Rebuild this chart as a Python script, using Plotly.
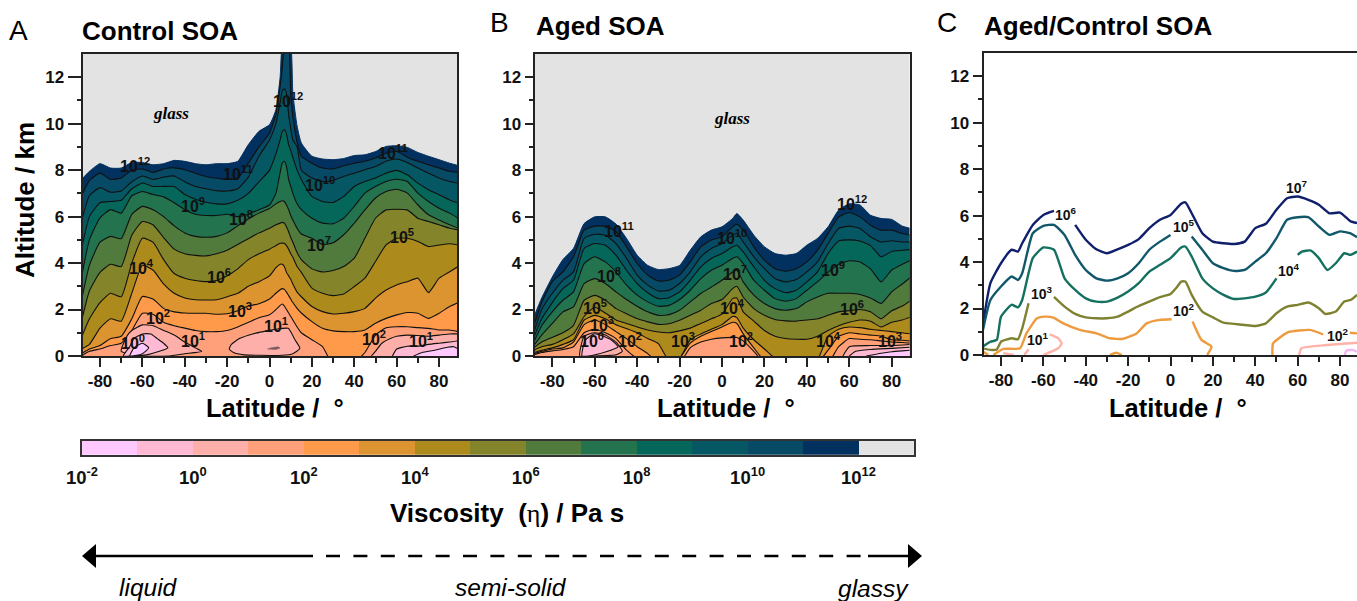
import plotly.graph_objects as go

W, H = 1357, 601
FONT = "Liberation Sans"

# ---------- colour bands ----------
band_edges = [-2, -1, 0, 1, 2, 3, 4, 5, 6, 7, 8, 9, 10, 11, 12]
band_colors = ["#FFC8FF", "#FFB9D2", "#FFAFAA", "#FFA07A", "#FF9A4B", "#DC9430", "#AD8A1C", "#84842A",
               "#507B3C", "#24734F", "#05665A", "#055763", "#064A66", "#02305F", "#E3E3E3"]
cbar_tick_vals = [-2, 0, 2, 4, 6, 8, 10, 12]
cbar_tick_text = ["10<sup>-2</sup>", "10<sup>0</sup>", "10<sup>2</sup>", "10<sup>4</sup>", "10<sup>6</sup>",
                  "10<sup>8</sup>", "10<sup>10</sup>", "10<sup>12</sup>"]

# ---------- panel A: altitude (km) of each viscosity contour, by latitude ----------
lat_a = [-88.7,-85,-80,-75,-70,-65,-60,-55,-50,-45,-40,-35,-30,-25,-20,-15,-10,-5,0,3,5,6,7,8,9,10,11,13,15,20,25,30,35,40,45,50,55,60,65,70,75,80,85,89]
a12 = [7.6,7.95,8.28,8.09,8.09,8.33,8.33,8.23,8.28,8.42,8.38,8.28,8.23,8.28,8.28,8.38,9.1,9.67,9.96,10.6,12.0,13.3,13.3,13.3,13.3,13.3,11.3,9.9,9.17,8.6,8.48,8.45,8.5,8.63,8.66,8.8,9.02,9.05,8.98,8.76,8.6,8.45,8.3,8.2]
a11 = [6.9,7.55,7.87,7.6,7.66,8.0,8.05,7.9,8.05,8.1,8.02,7.87,7.73,7.65,7.6,7.65,8.3,9.0,9.6,10.4,11.6,12.4,13.3,13.3,13.3,11.2,10.3,9.2,8.6,8.3,8.09,8.05,8.19,8.3,8.38,8.52,8.73,8.8,8.56,8.38,8.23,8.09,7.95,7.9]
a10 = [5.8,6.9,7.25,7.05,7.1,7.5,7.75,7.6,7.7,7.75,7.5,7.3,7.2,7.12,7.1,7.2,7.7,8.6,9.3,10.0,10.9,11.4,11.5,11.3,10.4,9.8,9.3,9.0,8.0,7.66,7.51,7.56,7.73,7.87,8.02,8.16,8.38,8.48,8.33,8.09,7.87,7.66,7.51,7.44]
a9 = [4.6,6.0,6.6,6.65,6.7,7.2,7.45,7.3,7.3,7.3,6.95,6.75,6.62,6.55,6.55,6.7,7.0,7.5,8.0,8.7,9.3,9.65,9.75,9.55,9.1,8.85,8.55,8.0,7.6,6.87,6.65,6.61,6.87,7.3,7.51,7.66,7.87,7.99,7.8,7.44,7.16,6.94,6.72,6.58]
a8 = [3.4,5.0,5.95,6.3,6.15,6.9,7.08,6.95,6.85,6.6,6.3,6.1,6.05,6.05,6.1,6.0,6.1,6.3,6.5,7.0,7.9,8.3,8.38,8.15,7.6,7.3,7.0,6.55,6.3,5.93,5.72,5.69,5.93,6.44,7.01,7.3,7.51,7.61,7.51,7.01,6.65,6.36,6.15,5.93]
a7 = [2.4,3.9,4.9,5.15,5.05,6.1,6.44,6.3,6.0,5.6,5.3,5.15,5.11,5.15,5.3,5.6,5.9,6.15,6.35,6.55,6.65,6.68,6.65,6.5,6.3,6.05,5.85,5.5,5.25,5.07,4.8,4.88,5.22,5.72,6.29,6.8,7.08,7.18,7.01,6.5,6.08,5.85,5.65,5.5]
a6 = [1.5,2.8,3.6,3.95,3.85,5.2,5.79,5.65,5.1,4.6,4.4,4.33,4.31,4.4,4.55,4.8,5.05,5.3,5.5,5.65,5.72,5.75,5.72,5.55,5.35,5.1,4.9,4.45,4.15,3.75,3.62,3.68,3.85,4.21,5.07,5.93,6.29,6.32,6.29,5.93,5.79,5.65,5.5,5.43]
a5 = [0.8,1.6,2.3,2.7,2.55,4.0,5.07,4.9,4.15,3.55,3.35,3.25,3.2,3.25,3.45,3.75,4.15,4.4,4.6,4.75,4.85,4.86,4.85,4.75,4.6,4.4,4.25,3.85,3.6,2.92,2.7,2.6,2.67,2.99,3.35,4.07,4.78,5.07,5.07,4.93,4.71,4.78,4.83,4.78]
a4 = [0.3,0.5,1.2,1.6,1.5,2.7,3.9,3.7,3.1,2.7,2.5,2.42,2.41,2.42,2.55,2.7,3.0,3.2,3.45,3.8,3.95,3.95,3.85,3.6,3.45,3.3,3.1,2.75,2.55,2.13,1.91,1.81,1.84,1.91,2.05,2.49,2.84,3.06,3.2,3.35,2.73,3.35,3.63,3.85]
a3 = [0.1,0.3,0.45,0.75,0.85,1.6,2.56,2.45,2.05,1.9,1.85,1.84,1.84,1.8,1.82,1.95,2.15,2.25,2.45,2.7,2.85,2.9,2.87,2.75,2.6,2.45,2.3,2.05,1.85,1.48,1.19,1.08,1.05,1.05,1.12,1.41,1.62,1.77,1.87,1.84,1.62,1.84,2.13,2.3]
a2 = [0.0,0.2,0.3,0.45,0.55,1.1,1.84,1.8,1.45,1.3,1.2,1.1,1.05,1.05,1.1,1.25,1.45,1.65,1.78,2.0,2.18,2.24,2.15,2.0,1.85,1.7,1.55,1.25,1.0,0.7,0.4,-0.4,-0.5,-0.3,0.15,0.9,1.22,1.26,1.26,1.22,1.19,1.12,1.12,1.05]
# closed low-altitude contours
a_blob_r1_lat = [48,50,53,57,60,65,70,75,80,85,89]
a_blob_r1_alt = [0,0.2,0.55,0.75,0.85,0.9,0.88,0.85,0.9,0.95,0.95]
a_blob_r0_lat = [58,60,65,70,75,80,85,89]
a_blob_r0_alt = [0,0.3,0.42,0.42,0.5,0.55,0.6,0.65]
a_blob_rm_lat = [68,72,78,84,87,89]
a_blob_rm_alt = [0,0.15,0.25,0.38,0.4,0.3]
a_blob_l1_lat = [-70,-67,-65,-60,-55,-50,-45,-40,-35,-32,-40,-48,-60,-70]
a_blob_l1_alt = [0.2,0.9,1.1,1.34,1.3,1.1,0.9,0.6,0.35,0.2,0.1,0,0,0.2]
a_blob_l0_lat = [-69,-66,-64,-60,-56,-53,-50,-48,-52,-58,-65,-69]
a_blob_l0_alt = [0,0.4,0.75,0.95,0.95,0.75,0.55,0.35,0.2,0.05,0,0]
a_blob_lm_lat = [-66,-64,-60,-57,-60,-65,-66]
a_blob_lm_alt = [0,0.35,0.55,0.35,0.1,0,0]
a_blob_c1_lat = [-19,-18,-14,-8,-3,3,8.8,12,14.3,11,6,-5,-12,-17,-19]
a_blob_c1_alt = [0.3,0.5,0.76,0.95,1.05,1.15,1.19,0.7,0.33,0.1,0.03,0.03,0.05,0.15,0.3]
a_spot_lat = [-1,1,4,5,3,0,-1]
a_spot_alt = [0.3,0.36,0.4,0.34,0.28,0.28,0.3]
a_lab_lat = [-63.5,8.7,-15,58.3,23.8,-36,-13.5,23.4,-24,62.5,-60.6,-13.9,-52.6,49.3,-36,3,71.5,-64.4]
a_lab_alt = [8.23,11,7.89,8.8,7.41,6.5,5.95,4.83,3.45,5.17,3.84,1.98,1.68,0.78,0.69,1.34,0.69,0.6]
a_lab_exp = [12,12,11,11,10,9,8,7,6,5,4,3,2,2,1,1,1,0]

# ---------- panel B ----------
lat_b = [-88.7,-85,-80,-75,-70,-65,-60,-55,-50,-45,-40,-35,-30,-25,-20,-15,-10,-5,0,5,7,10,15,20,25,30,35,40,45,50,55,60,65,70,75,80,85,89]
b12 = [1.68,2.5,3.4,4.15,4.63,5.7,5.99,5.99,5.68,5.06,4.34,3.9,3.72,3.76,3.9,4.55,5.13,5.42,5.56,5.92,6.13,5.85,5.2,4.7,4.41,4.34,4.41,4.77,5.06,5.56,6.28,6.55,6.5,6.06,5.92,5.88,5.59,5.49]
b11 = [1.3,2.3,3.2,3.62,4.27,5.42,5.59,5.59,5.35,4.7,3.98,3.48,3.23,3.26,3.48,4.05,4.7,4.99,5.13,5.56,5.67,5.42,4.7,4.12,3.76,3.65,3.76,4.05,4.55,5.27,5.99,6.18,5.99,5.63,5.42,5.42,5.27,5.2]
b10 = [1.0,2.0,2.7,3.26,3.62,5.06,5.24,5.2,4.84,4.2,3.48,3.05,2.8,2.83,3.12,3.62,4.27,4.63,4.84,5.2,5.27,4.91,4.27,3.76,3.33,3.19,3.29,3.62,4.05,4.84,5.49,5.59,5.49,5.13,4.91,4.96,4.91,4.91]
b9 = [0.8,1.6,2.3,2.9,3.26,4.63,4.84,4.77,4.34,3.69,3.12,2.72,2.47,2.51,2.76,3.26,3.84,4.2,4.41,4.7,4.77,4.48,3.84,3.26,2.9,2.72,2.83,3.19,3.62,4.41,4.95,5.0,4.95,4.75,4.27,4.5,4.55,4.58]
b8 = [0.6,1.3,1.9,2.4,2.76,3.98,4.27,4.05,3.62,3.05,2.62,2.33,2.14,2.18,2.43,2.83,3.33,3.69,3.91,4.2,4.27,3.98,3.26,2.83,2.47,2.36,2.47,2.83,3.19,3.6,3.95,4.1,4.05,3.75,3.19,3.7,3.95,4.12]
b7 = [0.45,0.9,1.4,1.9,2.11,3.12,3.33,3.12,2.76,2.43,2.14,1.9,1.75,1.78,1.97,2.33,2.69,2.97,3.26,3.62,3.69,3.19,2.62,2.26,2.04,1.97,2.04,2.33,2.54,2.7,2.7,2.7,2.65,2.5,2.26,2.76,3.1,3.4]
b6 = [0.35,0.6,0.8,1.0,1.32,2.4,2.61,2.4,2.04,1.82,1.61,1.47,1.36,1.39,1.54,1.75,1.97,2.26,2.43,2.9,3.0,2.54,2.04,1.75,1.57,1.51,1.5,1.55,1.6,1.75,1.9,1.95,2.0,1.9,1.6,1.95,2.15,2.4]
b5 = [0.25,0.4,0.5,0.7,0.95,1.7,2.1,1.85,1.55,1.4,1.25,1.12,1.03,1.0,1.08,1.2,1.4,1.6,1.8,2.47,2.5,1.9,1.5,1.1,0.85,0.75,0.72,0.72,0.85,1.1,1.3,1.45,1.55,1.5,1.25,1.45,1.55,1.68]
b4 = [0.15,0.25,0.35,0.5,0.7,1.55,1.75,1.6,1.35,1.18,1.0,0.75,0.53,-0.2,-0.1,0.7,0.95,1.15,1.35,1.7,1.65,1.2,0.7,0.3,-0.1,-0.3,-0.3,-0.3,-0.15,0.85,1.15,1.25,1.22,1.15,1.1,1.05,1.0,0.95]
b3 = [0.1,0.2,0.3,0.35,0.6,1.35,1.55,1.35,1.05,0.75,0.4,0.1,-0.3,-0.3,-0.1,0.55,0.85,1.05,1.25,1.45,1.4,0.95,0.35,-0.2,-0.3,-0.3,-0.3,-0.3,-0.3,0.25,0.85,1.0,0.95,0.9,0.85,0.7,0.68,0.65]
b2 = [0.05,0.15,0.22,0.28,0.4,1.0,1.15,1.0,0.75,0.25,-0.1,-0.3,-0.3,-0.3,-0.3,0.35,0.6,0.72,0.78,0.8,0.8,0.65,0.2,-0.3,-0.3,-0.3,-0.3,-0.3,-0.3,-0.3,0.4,0.75,0.72,0.7,0.65,0.6,0.58,0.55]
b_blob_l1_lat = [-67,-65,-60,-55,-50,-47,-50,-60,-67]
b_blob_l1_alt = [0,0.85,1.0,0.9,0.6,0.2,0.05,0,0]
b_blob_l0_lat = [-66,-64.5,-60,-52,-49,-55,-63,-66]
b_blob_l0_alt = [0,0.68,0.96,0.68,0.39,0.17,0,0]
b_blob_r1_lat = [57,60,70,80,89]
b_blob_r1_alt = [0,0.4,0.45,0.45,0.5]
b_blob_r0_lat = [60,63,70,80,89]
b_blob_r0_alt = [0,0.2,0.28,0.33,0.38]
b_blob_rm_lat = [68,75,80,85,89]
b_blob_rm_alt = [0,0.12,0.18,0.22,0.25]
b_lab_lat = [61.4,-48.5,4.8,52.5,-53.2,6.2,61.4,-60,4.8,50,-56.5,-18.3,79.4,-43.3,9,-61.3]
b_lab_alt = [6.58,5.42,5.12,3.74,3.48,3.56,2.06,2.1,2.1,0.68,1.37,0.68,0.68,0.68,0.68,0.68]
b_lab_exp = [12,11,10,9,8,7,6,5,4,4,3,3,3,2,2,0]

# ---------- panel C ----------
c7_lat = [-88.7,-85,-80,-75,-72,-70,-65,-60,-55,None,-45,-40,-35,-30,-25,-20,-15,-10,-5,0,5,7,10,15,20,25,30,35,40,45,50,55,60,65,70,75,80,85,88]
c7_alt = [1.2,3.09,3.95,4.53,4.45,4.81,5.6,6.03,6.2,None,5.6,4.96,4.55,4.38,4.55,4.74,4.99,5.46,5.82,6.03,6.51,6.57,6.1,5.24,4.88,4.81,4.78,4.88,5.46,5.65,6.25,6.75,6.82,6.68,6.47,6.1,6.13,5.75,5.68]
c6_lat = [-88.7,-85,-80,-75,-72,-70,-65,-60,-55,-50,-45,-40,-35,-30,-25,-20,-15,-10,-5,0,None,10,15,20,25,30,35,40,45,50,55,60,65,70,75,80,85,88]
c6_alt = [1.0,2.37,2.95,3.38,3.23,3.52,5.24,5.56,5.6,5.17,4.31,3.66,3.3,3.2,3.3,3.52,3.95,4.53,4.88,5.17,None,5.1,4.53,3.95,3.74,3.62,3.66,4.02,4.38,5.03,5.82,5.93,5.93,5.53,5.17,5.32,5.24,5.07]
c5_lat = [-88.7,-85,-82,-80,-75,-72,-70,-65,-60,-55,-50,-45,-40,-35,-30,-25,-20,-15,-10,-5,0,5,7,10,15,20,25,30,35,40,45,50,None,60,62,66,70,74,78,82,85,88]
c5_alt = [0.36,0.57,0.65,1.65,2.16,2.05,2.37,4.17,4.63,4.53,3.3,2.8,2.44,2.3,2.3,2.47,2.73,3.09,3.59,3.88,4.17,4.63,4.67,4.24,3.3,2.87,2.59,2.41,2.44,2.51,2.69,3.3,None,4.31,4.45,4.5,4.17,3.66,3.95,4.38,4.31,4.45]
c4_lat = [-88.7,-85,-82,-80,-75,-72,-70,-67,None,-55,-50,-45,-40,-35,-30,-25,-20,-15,-10,-5,0,3,5,7,10,15,20,25,30,35,40,45,50,55,60,65,70,73,78,82,85,88]
c4_alt = [0.29,0.22,0.24,0.57,0.72,0.68,1.15,2.23,None,2.5,2.08,1.77,1.62,1.58,1.58,1.65,1.87,2.11,2.3,2.49,2.63,2.92,3.16,3.16,2.59,1.87,1.62,1.39,1.34,1.29,1.25,1.36,1.8,2.08,2.16,2.26,2.01,1.77,1.87,2.3,2.37,2.59]
c3_lat = [-88.4,-86,None,-83.6,-78.9,-71,-68,-63,-59.3,-55.3,-50.6,-42.8,-34.9,-28.6,-23,-16,-11.3,-5,0.5,None,10.4,14.6,19.3,17.3,None,-28.6,-25.5,-23,None,48.1,48.4,55.5,65.7,72,None,84.6,88]
c3_alt = [0.14,0,None,0,0.26,0.29,0.93,1.58,1.65,1.61,1.36,1.08,0.93,0.72,0.69,0.93,1.36,1.51,1.54,None,1.44,0.65,0.36,0,None,0,0.1,0,None,0,0.5,0.98,1.08,0.89,None,0.96,0.93]
c2_lat = [-79,-74,None,-69,-67,None,-60,-53,-51.4,-53,-57,None,60.7,61.8,73.6,88]
c2_alt = [0.08,0,None,0,0.25,None,0,0.29,0.5,0.72,0.89,None,0,0.29,0.43,0.53]
c1_lat = [82.2,83,86,88]
c1_alt = [0,0.19,0.22,0.14]
c_lab_lat = [59.7,-49.3,6.4,55.9,-60.6,6.4,79,-62.5]
c_lab_alt = [7.24,6.08,5.56,3.66,2.67,1.94,0.86,0.69]
c_lab_exp = [7,6,5,4,3,2,2,1]
c_colors = {"c7": "#101F6B", "c6": "#11586B", "c5": "#14705F", "c4": "#7E8230", "c3": "#EE9A3E", "c2": "#FFB2A8", "c1": "#F3B8F3"}

x_tick_vals = [-80, -60, -40, -20, 0, 20, 40, 60, 80]
x_tick_text = ["-80", "-60", "-40", "-20", "0", "20", "40", "60", "80"]
x_minor_vals = [-70, -50, -30, -10, 10, 30, 50, 70]
y_tick_vals = [0, 2, 4, 6, 8, 10, 12]
y_minor_vals = [1, 3, 5, 7, 9, 11]


def px_x(v):
    return v / W


def px_y(v):
    return 1 - v / H


fig = go.Figure()
C = dict(zip(band_edges, band_colors))
LINE = dict(color="#111111", width=1.1, shape="spline", smoothing=0.5)


def contour_level(lat, alt, fill, ax, line=True):
    ln = LINE if line else dict(color=fill, width=1.0, shape="spline", smoothing=0.5)
    fig.add_trace(go.Scatter(x=lat, y=alt, xaxis=ax[0], yaxis=ax[1], mode="lines", fill="tozeroy", fillcolor=fill,
                             line=ln, showlegend=False, hoverinfo="skip"))


def closed_blob(lat, alt, fill, ax, line=None):
    fig.add_trace(go.Scatter(x=lat, y=alt, xaxis=ax[0], yaxis=ax[1], mode="lines", fill="toself", fillcolor=fill,
                             line=line or LINE, showlegend=False, hoverinfo="skip"))


def edge_blob(lat, alt, fill, ax):
    fig.add_trace(go.Scatter(x=lat, y=alt, xaxis=ax[0], yaxis=ax[1], mode="lines", fill="tozeroy", fillcolor=fill,
                             line=LINE, showlegend=False, hoverinfo="skip"))


AX_A, AX_B, AX_C = ("x", "y"), ("x2", "y2"), ("x3", "y3")

for i, lev in enumerate([a12, a11, a10, a9, a8, a7, a6, a5, a4, a3, a2]):
    contour_level(lat_a, lev, band_colors[13 - i], AX_A, line=(i > 0))
closed_blob(a_blob_l1_lat, a_blob_l1_alt, C[0], AX_A)
closed_blob(a_blob_l0_lat, a_blob_l0_alt, C[-1], AX_A)
closed_blob(a_blob_lm_lat, a_blob_lm_alt, C[-2], AX_A)
closed_blob(a_blob_c1_lat, a_blob_c1_alt, C[0], AX_A)
closed_blob(a_spot_lat, a_spot_alt, "#7A5A62", AX_A, line=dict(color="#7A5A62", width=0.5))
edge_blob(a_blob_r1_lat, a_blob_r1_alt, C[0], AX_A)
edge_blob(a_blob_r0_lat, a_blob_r0_alt, C[-1], AX_A)
edge_blob(a_blob_rm_lat, a_blob_rm_alt, C[-2], AX_A)

for i, lev in enumerate([b12, b11, b10, b9, b8, b7, b6, b5, b4, b3, b2]):
    contour_level(lat_b, lev, band_colors[13 - i], AX_B, line=(i > 0))
closed_blob(b_blob_l1_lat, b_blob_l1_alt, C[0], AX_B)
closed_blob(b_blob_l0_lat, b_blob_l0_alt, C[-1], AX_B)
edge_blob(b_blob_r1_lat, b_blob_r1_alt, C[0], AX_B)
edge_blob(b_blob_r0_lat, b_blob_r0_alt, C[-1], AX_B)
edge_blob(b_blob_rm_lat, b_blob_rm_alt, C[-2], AX_B)

for lat, alt, key in [(c7_lat, c7_alt, "c7"), (c6_lat, c6_alt, "c6"), (c5_lat, c5_alt, "c5"), (c4_lat, c4_alt, "c4"),
                      (c3_lat, c3_alt, "c3"), (c2_lat, c2_alt, "c2"), (c1_lat, c1_alt, "c1")]:
    fig.add_trace(go.Scatter(x=lat, y=alt, xaxis="x3", yaxis="y3", mode="lines", connectgaps=False,
                             line=dict(color=c_colors[key], width=2.4, shape="spline", smoothing=0.5),
                             showlegend=False, hoverinfo="skip"))

# colour bar
fig.add_trace(go.Bar(y=[0.5] * 15, x=[1] * 15, base=band_edges, orientation="h", width=1,
                     marker=dict(color=band_colors, line=dict(width=0)), xaxis="x4", yaxis="y4",
                     showlegend=False, hoverinfo="skip"))

TF = dict(family=FONT, size=17, color="#111111", weight="bold")


def x_axis(domain, rng, anchor):
    return dict(domain=domain, range=rng, anchor=anchor, automargin=False, showgrid=False, zeroline=False, showline=True,
                mirror=True, linecolor="#222222", linewidth=2, ticks="outside", ticklen=9, tickwidth=1.6,
                tickcolor="#222222", tickmode="array", tickvals=x_tick_vals, ticktext=x_tick_text, tickfont=TF,
                minor=dict(tickmode="array", tickvals=x_minor_vals, ticks="outside", ticklen=5, tickwidth=1.6,
                           tickcolor="#222222", showgrid=False))


def y_axis(domain, anchor, ticklen, mirror=True):
    return dict(domain=domain, range=[0, 13], anchor=anchor, automargin=False, showgrid=False, zeroline=False,
                showline=True, mirror=mirror, linecolor="#222222", linewidth=2, ticks="outside", ticklen=ticklen,
                tickwidth=1.6, tickcolor="#222222", tickmode="array", tickvals=y_tick_vals,
                ticktext=[str(v) for v in y_tick_vals], tickfont=TF,
                minor=dict(tickmode="array", tickvals=y_minor_vals, ticks="outside", ticklen=4, tickwidth=1.6,
                           tickcolor="#222222", showgrid=False))


yd = [px_y(356), px_y(54)]

fig.update_layout(
    width=W, height=H, autosize=False, margin=dict(l=0, r=0, t=0, b=0),
    paper_bgcolor="white", plot_bgcolor="white", barmode="overlay", bargap=0,
    font=dict(family=FONT, color="#111111"),
    xaxis=x_axis([px_x(82.5), px_x(457)], [-88.26, 88.46], "y"),
    yaxis=y_axis(yd, "x", 13),
    xaxis2=x_axis([px_x(534.5), px_x(909.5)], [-88.39, 88.39], "y2"),
    yaxis2=y_axis(yd, "x2", 8),
    xaxis3=x_axis([px_x(983.5), 1.0], [-88.26, 88.0], "y3"),
    yaxis3=y_axis([px_y(355), px_y(53)], "x3", 9, mirror=False),
    xaxis4=dict(domain=[px_x(82), px_x(914)], range=[-2, 13], anchor="y4", automargin=False, showgrid=False,
                zeroline=False, showline=True, mirror=True, linecolor="#333333", linewidth=1.5, ticks="outside",
                ticklen=5, tickcolor="rgba(0,0,0,0)", tickmode="array", tickvals=cbar_tick_vals, ticktext=cbar_tick_text,
                tickfont=dict(family=FONT, size=18.5, color="#111111", weight="bold"), tickangle=0),
    yaxis4=dict(domain=[px_y(454.7), px_y(441)], range=[0, 1], anchor="x4", automargin=False, showgrid=False,
                zeroline=False, showline=True, mirror=True, linecolor="#333333", linewidth=1.5, showticklabels=False,
                ticks=""),
)

ann = []


def label(lat, alt, exp, xr, yr, size):
    ann.append(dict(x=lat, y=alt, xref=xr, yref=yr, text=f"10<sup>{exp}</sup>", showarrow=False, borderpad=0,
                    font=dict(family=FONT, size=size, color="#111111", weight="bold")))


for la, al, ex in zip(a_lab_lat, a_lab_alt, a_lab_exp):
    label(la, al, ex, "x", "y", 16)
for la, al, ex in zip(b_lab_lat, b_lab_alt, b_lab_exp):
    label(la, al, ex, "x2", "y2", 16)
for la, al, ex in zip(c_lab_lat, c_lab_alt, c_lab_exp):
    label(la, al, ex, "x3", "y3", 14)


def text_at(xp, yp, s, size, weight="normal", style="normal", family=FONT, xanchor="center", angle=0):
    ann.append(dict(x=px_x(xp), y=px_y(yp), xref="paper", yref="paper", text=s, showarrow=False,
                    xanchor=xanchor, yanchor="middle", textangle=angle,
                    font=dict(family=family, size=size, color="#000000", weight=weight, style=style)))


text_at(18, 31, "A", 28)
text_at(499, 23, "B", 28)
text_at(947, 23, "C", 28)
text_at(80, 31, "Control SOA", 26, weight="bold", xanchor="left")
text_at(534, 26, "Aged SOA", 26, weight="bold", xanchor="left")
text_at(982, 26, "Aged/Control SOA", 26, weight="bold", xanchor="left")
text_at(171, 113, "glass", 17, weight="bold", style="italic", family="Liberation Serif")
text_at(732, 118, "glass", 17, weight="bold", style="italic", family="Liberation Serif")
text_at(25, 200, "Altitude / km", 26, weight="bold", angle=-90)
for xc in (274.7, 726, 1178):
    text_at(xc, 408, "Latitude /  °", 25.5, weight="bold")
text_at(507, 513, "Viscosity  (<span style='font-family:Liberation Serif;font-weight:normal'>η</span>) / Pa s", 26, weight="bold")
text_at(148.5, 587, "liquid", 24.5, style="italic")
text_at(511, 587, "semi-solid", 24.5, style="italic")
text_at(874, 588, "glassy", 24.5, style="italic")
fig.update_layout(annotations=ann)

shapes = [
    dict(type="rect", xref="x domain", yref="y domain", x0=0, x1=1, y0=0, y1=1, fillcolor="#E3E3E3",
         line=dict(width=0), layer="below"),
    dict(type="rect", xref="x2 domain", yref="y2 domain", x0=0, x1=1, y0=0, y1=1, fillcolor="#E3E3E3",
         line=dict(width=0), layer="below"),
    dict(type="line", xref="paper", yref="paper", x0=px_x(92), x1=px_x(313), y0=px_y(556), y1=px_y(556),
         line=dict(color="#000000", width=2.5)),
    dict(type="line", xref="paper", yref="paper", x0=px_x(326), x1=px_x(868), y0=px_y(556), y1=px_y(556),
         line=dict(color="#000000", width=2.5, dash="14px 13.4px")),
    dict(type="line", xref="paper", yref="paper", x0=px_x(868), x1=px_x(912), y0=px_y(556), y1=px_y(556),
         line=dict(color="#000000", width=2.5)),
    dict(type="path", xref="paper", yref="paper", fillcolor="#000000", line=dict(width=0),
         path=f"M {px_x(82)} {px_y(556)} L {px_x(96)} {px_y(544)} L {px_x(96)} {px_y(568)} Z"),
    dict(type="path", xref="paper", yref="paper", fillcolor="#000000", line=dict(width=0),
         path=f"M {px_x(922)} {px_y(556)} L {px_x(908)} {px_y(544)} L {px_x(908)} {px_y(568)} Z"),
]
fig.update_layout(shapes=shapes)

fig.write_html("out.html", config={"displayModeBar": False},
               post_script="document.body.style.margin='0';document.body.style.overflow='hidden';")
